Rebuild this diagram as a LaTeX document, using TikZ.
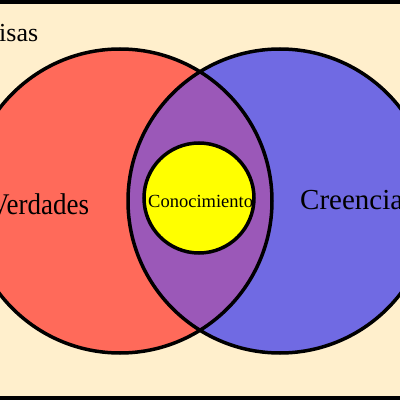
\documentclass[tikz,border=0pt]{standalone}
\usepackage{fontspec}
\setmainfont{Liberation Serif}
\definecolor{bg}{HTML}{FFEFCC}
\definecolor{vred}{HTML}{FF6A5A}
\definecolor{vblue}{HTML}{706AE3}
\definecolor{vpurple}{HTML}{9B58B8}
\definecolor{vyellow}{HTML}{FFFF00}
\tikzset{outline/.style={draw=black,line width=3.5pt},
  lbl/.style={inner sep=0pt,anchor=base west}}
\begin{document}
\begin{tikzpicture}[x=1pt,y=1pt]
\useasboundingbox (0,0) rectangle (400,400);
\clip (0,0) rectangle (400,400);
\fill[bg] (0,0) rectangle (400,400);
\fill[vred] (120,199) circle (152);
\fill[vblue] (280,199) circle (152);
\begin{scope}
\clip (120,199) circle (152);
\fill[vpurple] (280,199) circle (152);
\end{scope}
\draw[outline] (120,199) circle (152);
\draw[outline] (280,199) circle (152);
\fill[vyellow,outline] (199,202) circle (55);
\node[lbl,font=\fontsize{26}{30}\selectfont] (prem) at (-1,358) {isas};
\node[lbl,font=\fontsize{30}{34}\selectfont,xscale=0.9] (ver) at (-10,185) {Verdades};
\node[lbl,font=\fontsize{29}{33}\selectfont] (cre) at (300,190) {Creencias};
\node[lbl,font=\fontsize{18.5}{20}\selectfont] (con) at (148,192) {Conocimiento};
\fill[black] (0,396) rectangle (400,400);
\fill[black] (0,0) rectangle (400,4);
\end{tikzpicture}
\end{document}
